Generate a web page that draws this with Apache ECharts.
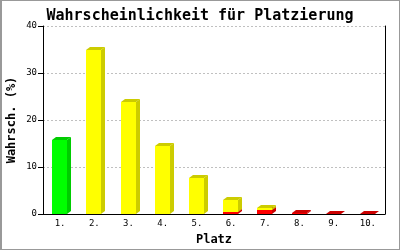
<!DOCTYPE html>
<html><head><meta charset="utf-8">
<script src="https://cdn.jsdelivr.net/npm/echarts@6/dist/echarts.min.js"></script>
<style>
html,body{margin:0;padding:0;background:#fff;}
#wrap{position:relative;width:400px;height:250px;}
#c{width:400px;height:250px;}
#frame{position:absolute;left:0;top:0;width:400px;height:250px;box-sizing:border-box;border:1px solid #999;border-left-width:2px;pointer-events:none;}
</style></head>
<body><div id="wrap"><div id="c"></div><div id="frame"></div></div>
<script>
const categories = ['1.','2.','3.','4.','5.','6.','7.','8.','9.','10.'];
const greenValues  = [15.8, 0, 0, 0, 0, 0, 0, 0, 0, 0];
const redValues    = [0, 0, 0, 0, 0, 0.5, 0.75, 0.2, 0.1, 0.1];
const yellowValues = [0, 34.8, 23.8, 14.5, 7.6, 2.5, 0.45, 0, 0, 0];
const yTicks = [0, 10, 20, 30, 40];

const colors = {
  green:  {front:'#00ff00', side:'#00cc00', top:'#00cc00'},
  red:    {front:'#ff0000', side:'#cc0000', top:'#cc0000'},
  yellow: {front:'#ffff00', side:'#cccc00', top:'#cccc00'}
};

// stacking order: green, red (bottom), yellow (top)
const stackOrder = [['green', greenValues], ['red', redValues], ['yellow', yellowValues]];
const base = categories.map(() => 0);
const seriesList = [];
stackOrder.forEach(([name, vals], si) => {
  const data = vals.map((v, i) => {
    const b = base[i];
    base[i] += v;
    return [i, b, b + v];
  });
  const col = colors[name];
  seriesList.push({
    type: 'custom',
    name: name,
    z: 2 + si,
    renderItem: function (params, api) {
      const lo = api.value(1), hi = api.value(2);
      if (hi - lo <= 0) return null;
      const p0 = api.coord([api.value(0), lo]);
      const p1 = api.coord([api.value(0), hi]);
      const band = api.size([1, 0])[0];
      const w = Math.round(band * 0.44);
      const dx = 4, dy = 3;
      const l = Math.round(p0[0] - w / 2 - 0.5);
      const r = l + w;
      const yb = Math.round(p0[1]);
      const yt = Math.round(p1[1]);
      return {
        type: 'group',
        children: [
          {type:'polygon', shape:{points:[[r,yt],[r+dx,yt-dy],[r+dx,yb-dy],[r,yb]]}, style:{fill:col.side}},
          {type:'polygon', shape:{points:[[l,yt],[l+dx,yt-dy],[r+dx,yt-dy],[r,yt]]}, style:{fill:col.top}},
          {type:'rect', shape:{x:l, y:yt, width:w, height:yb-yt}, style:{fill:col.front}}
        ]
      };
    },
    data: data
  });
});

const mono = '"DejaVu Sans Mono", "Liberation Mono", monospace';
const chart = echarts.init(document.getElementById('c'), null, {renderer:'canvas'});
chart.setOption({
  animation: false,
  title: {
    text: 'Wahrscheinlichkeit für Platzierung',
    left: 'center', top: 4,
    textStyle: {fontFamily: mono, fontSize: 15, fontWeight: 'bold', color: '#000'}
  },
  grid: {left: 43, right: 15, top: 26, bottom: 36, containLabel: false, outerBoundsMode: 'none'},
  xAxis: {
    type: 'category', data: categories, boundaryGap: true,
    name: 'Platz', nameLocation: 'middle', nameGap: 20, nameMoveOverlap: false,
    nameTextStyle: {fontFamily: mono, fontSize: 12, fontWeight: 'bold', color: '#000'},
    axisLine: {lineStyle: {color: '#000', width: 1}},
    axisTick: {show: false},
    axisLabel: {fontFamily: mono, fontSize: 9, color: '#000', margin: 5, interval: 0}
  },
  yAxis: [{
    type: 'value', min: yTicks[0], max: yTicks[yTicks.length-1], interval: 10,
    name: 'Wahrsch. (%)', nameLocation: 'middle', nameGap: 25, nameRotate: 90, nameMoveOverlap: false,
    nameTextStyle: {fontFamily: mono, fontSize: 12, fontWeight: 'bold', color: '#000'},
    axisLine: {show: true, lineStyle: {color: '#000', width: 1}},
    axisTick: {show: true, length: 5, lineStyle: {color: '#000'}},
    axisLabel: {fontFamily: mono, fontSize: 9, color: '#000', margin: 6},
    splitLine: {show: true, lineStyle: {color: '#c0c0c0', type: [2, 2], width: 1}}
  }, {
    type: 'value', position: 'right', min: 0, max: 40, interval: 10,
    axisLine: {show: true, lineStyle: {color: '#000', width: 1}},
    axisTick: {show: false}, axisLabel: {show: false}, splitLine: {show: false}
  }],
  series: seriesList
});
</script></body></html>
